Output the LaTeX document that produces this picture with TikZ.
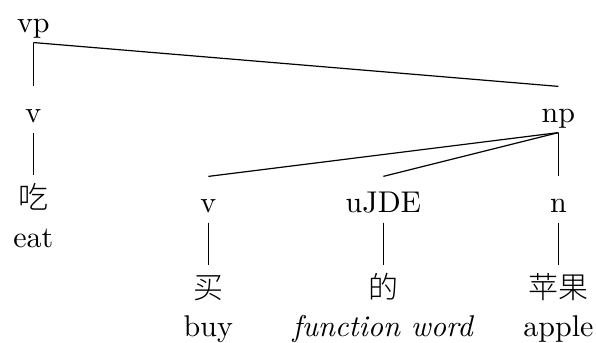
\documentclass[tikz,border=0pt]{standalone}
\usepackage{fontspec}
\newfontfamily\cjk{Noto Sans CJK SC}[UprightFont=* Light]
\begin{document}
\begin{tikzpicture}[scale=1,
		cat/.style={anchor=base, inner sep=0pt, text height=11.7pt, text depth=3.3pt},
		word/.style={anchor=base, inner sep=0pt, text height=10.7pt, text depth=0pt, font=\cjk},
		gloss/.style={anchor=base, inner sep=0pt}]
		
		\useasboundingbox (0,0) rectangle (6.98,-4.01);
		
		% Raiz vp
		\node[cat] (vp) at (0.39,-0.375) {vp};
		
		% Primer nivel
		\node[cat] (v1) at (0.39,-1.43) {v};
		\node[cat] (np) at (6.54,-1.43) {np};
		
		% Segundo nivel dentro de np
		\node[cat] (v2) at (2.44,-2.484) {v};
		\node[cat] (ude) at (4.49,-2.484) {uJDE};
		\node[cat] (n) at (6.54,-2.484) {n};
		
		% Palabras y glosas
		\node[word] (chi) at (0.39,-2.437) {吃};
		\node[gloss] (eat) at (0.39,-2.894) {eat};
		\node[word] (mai) at (2.44,-3.49) {买};
		\node[gloss] (buy) at (2.44,-3.935) {buy};
		\node[word] (de) at (4.49,-3.49) {的};
		\node[gloss] (fw) at (4.49,-3.935) {\textit{function word}};
		\node[word] (pingguo) at (6.54,-3.49) {苹果};
		\node[gloss] (apple) at (6.54,-3.935) {apple};
		
		% Ramas desde vp
		\draw (vp.south) -- (v1.north);
		\draw (vp.south) -- (np.north);
		
		% Ramas desde np
		\draw (np.south) -- (v2.north);
		\draw (np.south) -- (ude.north);
		\draw (np.south) -- (n.north);
		
		% Ramas a las palabras
		\draw (v1.south) -- (chi.north);
		\draw (v2.south) -- (mai.north);
		\draw (ude.south) -- (de.north);
		\draw (n.south) -- (pingguo.north);
		
	\end{tikzpicture}
\end{document}
